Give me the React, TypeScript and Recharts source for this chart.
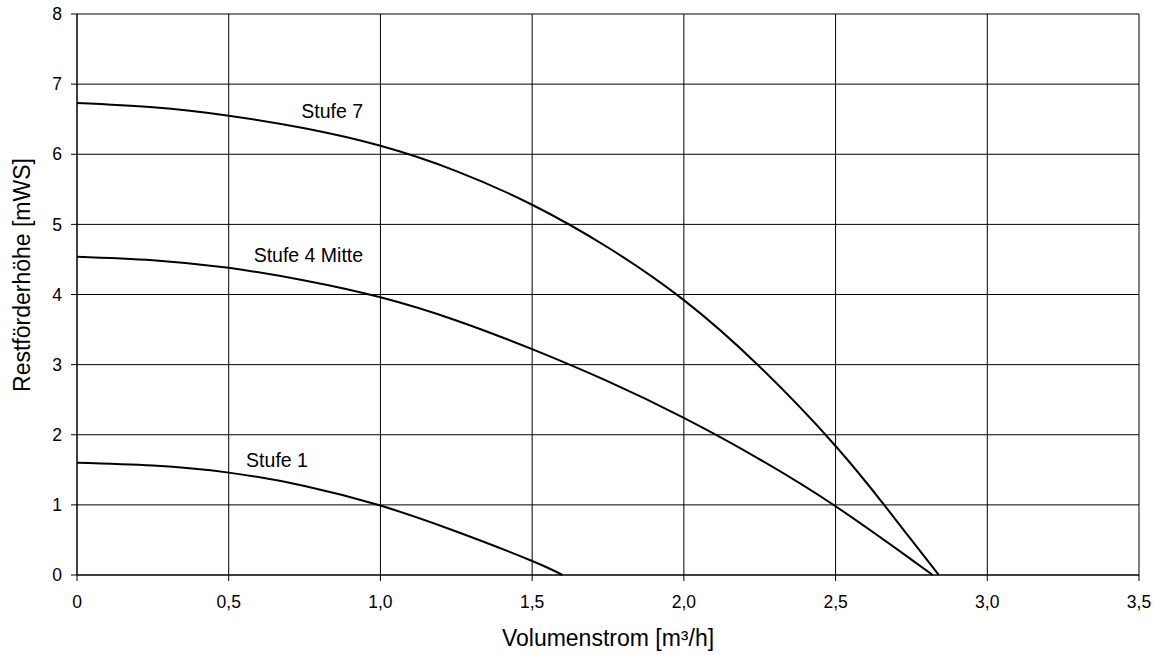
import { LineChart, Line, XAxis, YAxis, CartesianGrid, ReferenceDot } from "recharts";

// Kennlinien (Volumenstrom m³/h -> Restförderhöhe mWS)
const stufe7 = [
  { q: 0, h: 6.73 },
  { q: 0.25, h: 6.67 },
  { q: 0.5, h: 6.55 },
  { q: 0.75, h: 6.37 },
  { q: 1.0, h: 6.12 },
  { q: 1.25, h: 5.76 },
  { q: 1.5, h: 5.28 },
  { q: 1.75, h: 4.67 },
  { q: 2.0, h: 3.92 },
  { q: 2.25, h: 2.97 },
  { q: 2.5, h: 1.84 },
  { q: 2.66, h: 1.0 },
  { q: 2.75, h: 0.5 },
  { q: 2.84, h: 0 },
];

const stufe4 = [
  { q: 0, h: 4.54 },
  { q: 0.25, h: 4.49 },
  { q: 0.5, h: 4.38 },
  { q: 0.75, h: 4.2 },
  { q: 1.0, h: 3.96 },
  { q: 1.25, h: 3.63 },
  { q: 1.5, h: 3.22 },
  { q: 1.75, h: 2.76 },
  { q: 2.0, h: 2.24 },
  { q: 2.25, h: 1.65 },
  { q: 2.5, h: 0.98 },
  { q: 2.75, h: 0.22 },
  { q: 2.82, h: 0 },
];

const stufe1 = [
  { q: 0, h: 1.6 },
  { q: 0.25, h: 1.56 },
  { q: 0.5, h: 1.46 },
  { q: 0.75, h: 1.27 },
  { q: 1.0, h: 0.99 },
  { q: 1.25, h: 0.62 },
  { q: 1.5, h: 0.2 },
  { q: 1.6, h: 0 },
];

const xTicks = [0, 0.5, 1, 1.5, 2, 2.5, 3, 3.5];
const yTicks = [0, 1, 2, 3, 4, 5, 6, 7, 8];

const curveLabels = [
  { text: "Stufe 7", q: 0.943, h: 6.62 },
  { text: "Stufe 4 Mitte", q: 0.943, h: 4.56 },
  { text: "Stufe 1", q: 0.761, h: 1.64 },
];

const font = '"Liberation Sans", Arial, sans-serif';
const fmtX = (v: number) => (v === 0 ? "0" : v.toFixed(1).replace(".", ","));

const YTitle = () => (
  <text
    x={22}
    y={275}
    transform="rotate(-90 22 275)"
    textAnchor="middle"
    dominantBaseline="central"
    fill="#000"
    fontSize={23}
    fontFamily={font}
  >
    Restförderhöhe [mWS]
  </text>
);

export default function App() {
  const series = [stufe7, stufe4, stufe1];
  return (
    <div style={{ position: "absolute", left: 0, top: 0, background: "#fff", fontFamily: font }}>
      <LineChart width={1153} height={655} margin={{ top: 14, right: 14, left: 0, bottom: 0 }}>
        <CartesianGrid stroke="#000" strokeWidth={1} vertical horizontal />
        <XAxis
          type="number"
          dataKey="q"
          domain={[0, 3.5]}
          ticks={xTicks}
          tickFormatter={fmtX}
          height={80}
          stroke="#000"
          tickSize={6}
          tickMargin={15}
          tick={{ fill: "#000", fontSize: 17.5, fontFamily: font }}
          allowDuplicatedCategory={false}
          label={{ value: "Volumenstrom [m³/h]", position: "insideBottom", offset: 9, fill: "#000", fontSize: 23, fontFamily: font }}
        />
        <YAxis
          type="number"
          domain={[0, 8]}
          ticks={yTicks}
          width={77}
          stroke="#000"
          tickSize={6}
          tickMargin={9}
          tick={{ fill: "#000", fontSize: 17.5, fontFamily: font }}
          label={{ content: () => <YTitle /> }}
        />
        {series.map((d, i) => (
          <Line
            key={i}
            data={d}
            dataKey="h"
            type="natural"
            stroke="#000"
            strokeWidth={2}
            dot={false}
            activeDot={false}
            isAnimationActive={false}
          />
        ))}
        {curveLabels.map((l) => (
          <ReferenceDot
            key={l.text}
            x={l.q}
            y={l.h}
            r={0}
            fill="none"
            stroke="none"
            label={{ value: l.text, position: "center", fill: "#000", fontSize: 19.5, fontFamily: font, style: { textAnchor: "end" } }}
          />
        ))}
      </LineChart>
    </div>
  );
}
